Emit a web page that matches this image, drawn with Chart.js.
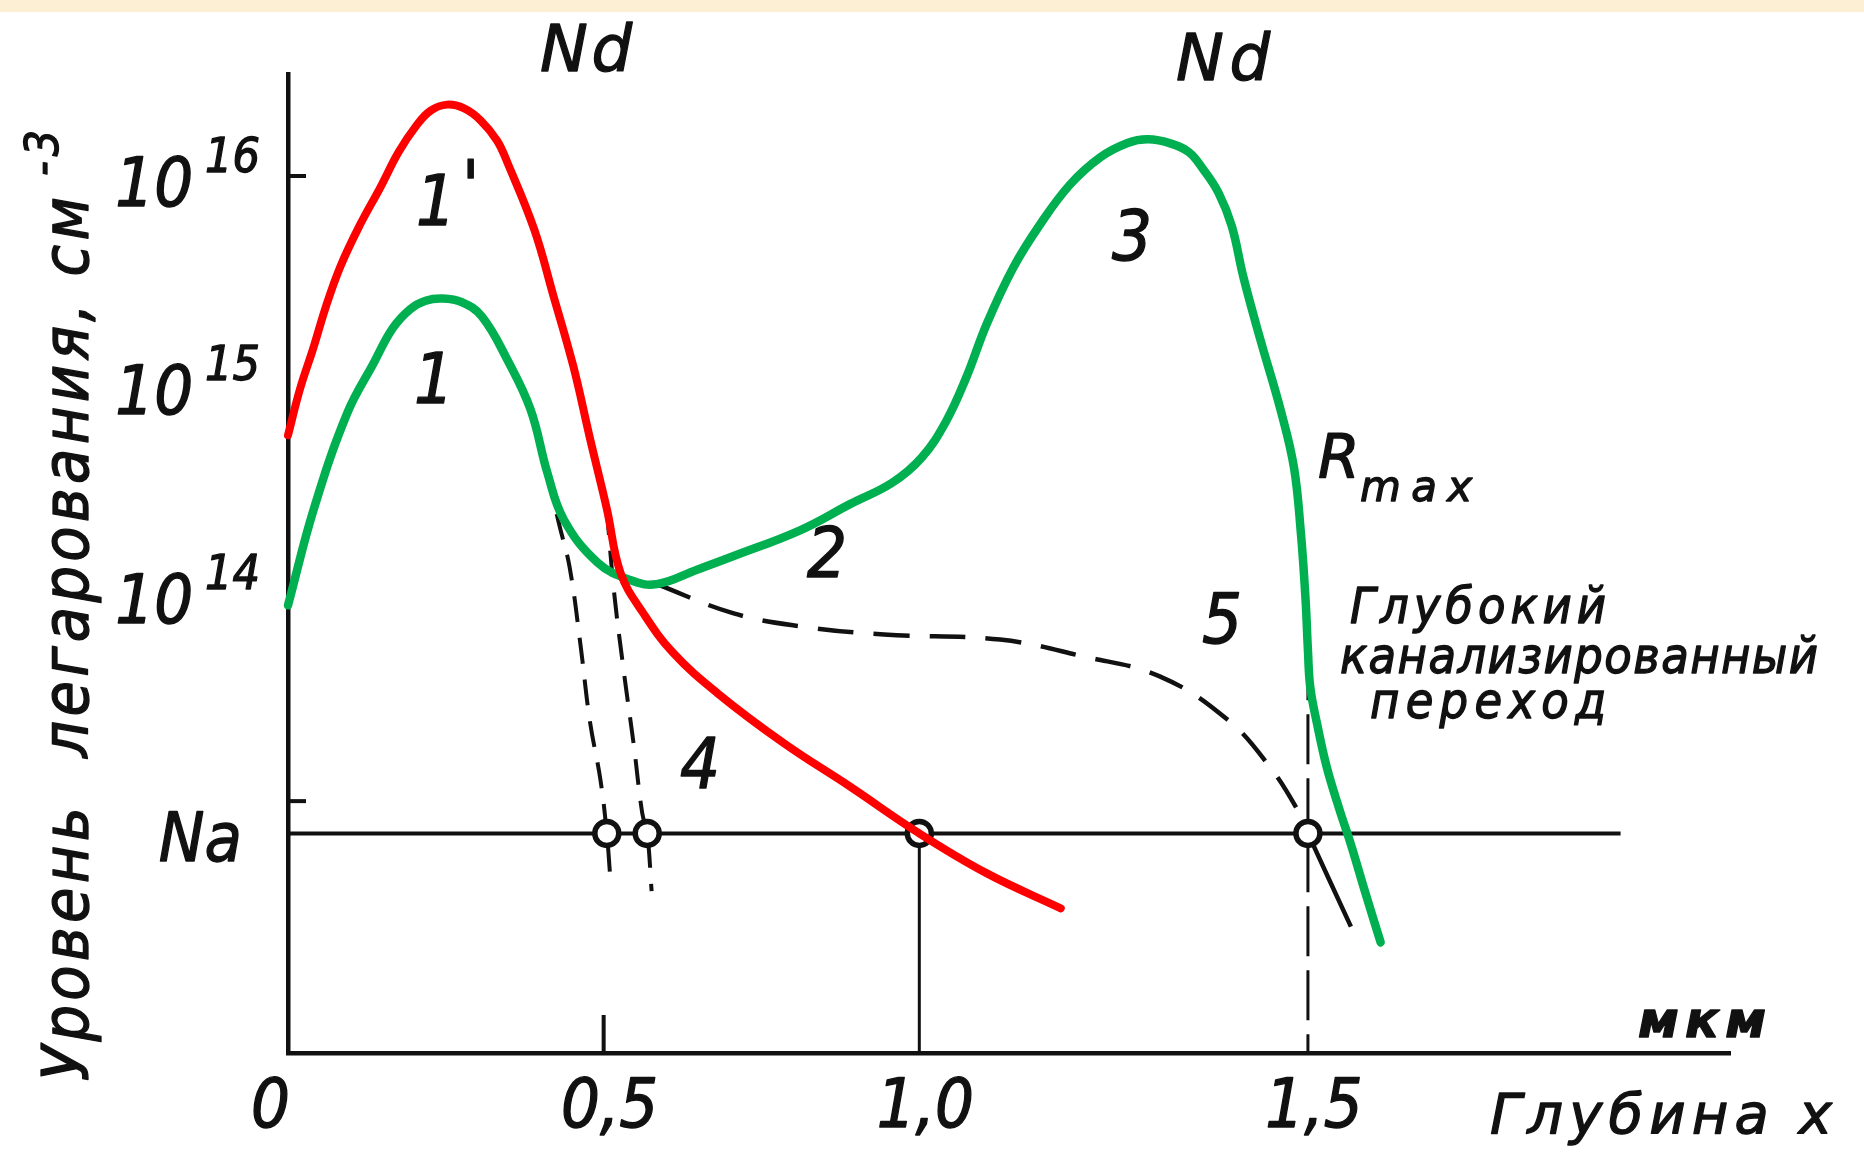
<!DOCTYPE html>
<html>
<head>
<meta charset="utf-8">
<script src="https://cdn.jsdelivr.net/npm/chart.js@4.4.1/dist/chart.umd.min.js"></script>
<style>
  html, body { margin: 0; padding: 0; background: #ffffff; }
  #wrap { position: relative; width: 1864px; height: 1167px; }
</style>
</head>
<body>
<div id="wrap"><canvas id="fig"></canvas></div>
<script>
// ---- Doping profiles: depth x in µm, concentration N in cm^-3 ----

// Curve 1' (peak) continuing into tail 4
const curve1pDepth = [0.0, 0.019, 0.040, 0.060, 0.083, 0.113, 0.147, 0.175, 0.203, 0.226, 0.252, 0.279, 0.305, 0.331, 0.347, 0.390, 0.420, 0.452, 0.478, 0.505, 0.527, 0.563, 0.610, 0.680, 0.785, 0.891, 1.0, 1.087, 1.182];
const curve1pLevel = [5.7e14, 9.5e14, 1.49e15, 2.36e15, 3.68e15, 5.75e15, 8.9e15, 1.3e16, 1.74e16, 2.06e16, 2.2e16, 2.11e16, 1.85e16, 1.48e16, 1.17e16, 5.54e15, 2.69e15, 1.22e15, 5.56e14, 2.53e14, 1.24e14, 7.96e13, 5.15e13, 3.3e13, 1.9e13, 1.17e13, 7.0e12, 4.5e12, 3.06e12];

// Curve 1 -> 2 -> 3 (surface peak, channelled tail, deep peak)
const curve123Depth = [0.0, 0.041, 0.094, 0.136, 0.166, 0.194, 0.218, 0.245, 0.275, 0.307, 0.347, 0.384, 0.411, 0.437, 0.490, 0.542, 0.584, 0.648, 0.706, 0.812, 0.891, 0.957, 1.003, 1.034, 1.060, 1.087, 1.121, 1.156, 1.194, 1.233, 1.268, 1.294, 1.324, 1.347, 1.365, 1.385, 1.402, 1.417, 1.439, 1.465, 1.482, 1.491, 1.497, 1.500, 1.503, 1.512, 1.524, 1.540, 1.555, 1.573, 1.593];
const curve123Level = [8.7e13, 2.53e14, 7.3e14, 1.27e15, 1.86e15, 2.3e15, 2.52e15, 2.58e15, 2.48e15, 2.12e15, 1.32e15, 7.6e14, 3.75e14, 2.24e14, 1.4e14, 1.15e14, 1.1e14, 1.29e14, 1.5e14, 2.0e14, 2.67e14, 3.37e14, 4.45e14, 6.6e14, 1.07e15, 1.96e15, 3.64e15, 5.9e15, 9.1e15, 1.23e16, 1.44e16, 1.5e16, 1.43e16, 1.3e16, 1.08e16, 8.3e15, 5.75e15, 3.27e15, 1.63e15, 7.5e14, 4.0e14, 1.92e14, 9.2e13, 5.3e13, 3.52e13, 2.32e13, 1.46e13, 9.2e12, 6.2e12, 3.68e12, 2.1e12];

// Dashed fall-off of curve 1 without channelling
const fall1Depth = [0.411, 0.429, 0.446, 0.463, 0.478, 0.495, 0.505, 0.510];
const fall1Level = [3.75e14, 2.16e14, 1.33e14, 5.73e13, 2.44e13, 1.26e13, 7.0e12, 4.5e12];

// Dashed fall-off of curve 1' without channelling
const fall1pDepth = [0.505, 0.516, 0.531, 0.548, 0.561, 0.569, 0.576];
const fall1pLevel = [2.53e14, 1.04e14, 4.4e13, 1.83e13, 8.8e12, 7.0e12, 3.7e12];

// Curve 5 (dashed channelled tail)
const curve5Depth = [0.584, 0.706, 0.812, 0.944, 1.104, 1.211, 1.310, 1.396, 1.451, 1.489, 1.500, 1.555];
const curve5Level = [1.1e14, 7.96e13, 6.9e13, 6.3e13, 5.96e13, 4.95e13, 3.96e13, 2.47e13, 1.46e13, 8.75e12, 7.0e12, 2.5e12];

// Substrate acceptor level Na and the junction depths on it
const NA_LEVEL = 7.0e12;
const NA_LINE_END = 1.9;
const junctionDepths = [0.505, 0.569, 1.0, 1.5];

// Axis ranges and tick labels
const X_MAX = 2.04;
const Y_MIN = Math.pow(10, 11.7913);
const Y_MAX = Math.pow(10, 16.4894);
const xTickValues = [0, 0.5, 1.0, 1.5];
const xTickLabels = ['0', '0,5', '1,0', '1,5'];
const yTickExponents = [16, 15, 14];
const yTickMarkExponents = [16, 13];

// ---- Depth axis: linear between hand-drawn scale marks ----
class DepthScale extends Chart.LinearScale {
  static id = 'depth';
  static defaults = {};
  static knots = [[0, 0], [1.0, 0.4378], [1.5, 0.7073], [X_MAX, 1]];
  _toDecimal(v) {
    const k = DepthScale.knots;
    let i = 0;
    while (i < k.length - 2 && v > k[i + 1][0]) i++;
    const [v0, f0] = k[i], [v1, f1] = k[i + 1];
    return f0 + (v - v0) * (f1 - f0) / (v1 - v0);
  }
  getPixelForValue(value) {
    if (value === null || value === undefined || isNaN(value)) return NaN;
    return this.getPixelForDecimal(this._toDecimal(value));
  }
  getValueForPixel(pixel) {
    const d = this.getDecimalForPixel(pixel);
    const k = DepthScale.knots;
    let i = 0;
    while (i < k.length - 2 && d > k[i + 1][1]) i++;
    const [v0, f0] = k[i], [v1, f1] = k[i + 1];
    return v0 + (d - f0) * (v1 - v0) / (f1 - f0);
  }
}
Chart.register(DepthScale);

const pts = (xs, ys) => xs.map((x, i) => ({ x, y: ys[i] }));

const RED = '#ff0000';
const GREEN = '#00b050';
const INK = '#111111';
const NARROW = "'DejaVu Sans Condensed', 'Liberation Sans Narrow', 'DejaVu Sans', sans-serif";
const WIDE = "'DejaVu Sans', 'Liberation Sans', sans-serif";

function setFont(ctx, size, family, weight) {
  ctx.font = 'italic ' + (weight || 'normal') + ' ' + size + 'px ' + (family || NARROW);
}
// Draws text so that it spans the given width, spacing the letters evenly
function spreadText(ctx, text, x, y, width) {
  const chars = Array.from(text);
  const widths = chars.map(c => ctx.measureText(c).width);
  const total = widths.reduce((a, b) => a + b, 0);
  const gap = chars.length > 1 ? (width - total) / (chars.length - 1) : 0;
  ctx.textAlign = 'left';
  let cx = x;
  chars.forEach((c, i) => {
    ctx.fillText(c, cx, y);
    ctx.strokeText(c, cx, y);
    cx += widths[i] + gap;
  });
}
function inkText(ctx, text, x, y) {
  ctx.fillText(text, x, y);
  ctx.strokeText(text, x, y);
}

const figurePlugin = {
  id: 'figureText',
  beforeDraw(chart) {
    const ctx = chart.ctx;
    ctx.save();
    ctx.fillStyle = '#ffffff';
    ctx.fillRect(0, 0, chart.width, chart.height);
    ctx.fillStyle = '#fdefd4';
    ctx.fillRect(0, 0, chart.width, 12);
    ctx.restore();
  },
  afterDraw(chart) {
    const ctx = chart.ctx;
    const xs = chart.scales.x, ys = chart.scales.y;
    const area = chart.chartArea;
    ctx.save();
    ctx.fillStyle = INK;
    ctx.strokeStyle = INK;
    ctx.textBaseline = 'alphabetic';
    ctx.lineJoin = 'round';

    // tick marks
    ctx.lineWidth = 4;
    yTickMarkExponents.forEach(e => {
      const y = ys.getPixelForValue(Math.pow(10, e));
      ctx.beginPath(); ctx.moveTo(area.left, y); ctx.lineTo(area.left + 18, y); ctx.stroke();
    });
    const x05 = xs.getPixelForValue(0.5);
    ctx.beginPath(); ctx.moveTo(x05, area.bottom); ctx.lineTo(x05, area.bottom - 38); ctx.stroke();

    ctx.lineWidth = 1.3;

    // y tick labels 10^n
    yTickExponents.forEach(e => {
      const y = ys.getPixelForValue(Math.pow(10, e));
      setFont(ctx, 48);
      const sup = String(e);
      const supW = ctx.measureText(sup).width;
      ctx.textAlign = 'right';
      inkText(ctx, sup, 260, y - 4);
      setFont(ctx, 68);
      inkText(ctx, '10', 260 - supW - 12, y + 30);
    });
    setFont(ctx, 68);
    ctx.textAlign = 'right';
    inkText(ctx, 'Na', area.left - 46, ys.getPixelForValue(NA_LEVEL) + 28);

    // x tick labels
    setFont(ctx, 68);
    xTickValues.forEach((v, i) => {
      const px = xs.getPixelForValue(v);
      if (v === 0) { ctx.textAlign = 'right'; inkText(ctx, xTickLabels[i], px + 2, 1127); }
      else { ctx.textAlign = 'center'; inkText(ctx, xTickLabels[i], px + 6, 1127); }
    });

    // axis titles
    setFont(ctx, 50, WIDE, 'bold');
    spreadText(ctx, 'мкм', 1638, 1037, 128);
    setFont(ctx, 56, WIDE);
    spreadText(ctx, 'Глубина x', 1490, 1133, 342);

    ctx.save();
    ctx.translate(88, 1081);
    ctx.rotate(-Math.PI / 2);
    setFont(ctx, 64);
    spreadText(ctx, 'Уровень  легарования, см', 0, 0, 884);
    setFont(ctx, 46);
    spreadText(ctx, '-3', 905, -30, 46);
    ctx.restore();

    // peak and curve labels
    setFont(ctx, 64, WIDE);
    spreadText(ctx, 'Nd', 540, 71, 92);
    spreadText(ctx, 'Nd', 1176, 80, 94);
    setFont(ctx, 70);
    ctx.textAlign = 'center';
    inkText(ctx, '1', 436, 225);
    inkText(ctx, '1', 434, 403);
    inkText(ctx, '2', 827, 577);
    inkText(ctx, '3', 1132, 260);
    inkText(ctx, '4', 700, 788);
    inkText(ctx, '5', 1222, 643);
    setFont(ctx, 70);
    ctx.textAlign = 'left';
    inkText(ctx, '\'', 462, 210);

    // R_max
    setFont(ctx, 60, WIDE);
    ctx.textAlign = 'left';
    inkText(ctx, 'R', 1318, 478);
    setFont(ctx, 42, WIDE);
    spreadText(ctx, 'max', 1360, 501, 112);

    // deep channelled junction note
    setFont(ctx, 50);
    spreadText(ctx, 'Глубокий', 1350, 623, 256);
    spreadText(ctx, 'канализированный', 1340, 673, 478);
    spreadText(ctx, 'переход', 1370, 718, 236);

    ctx.restore();
  }
};

const solidBlack = { borderColor: INK, pointRadius: 0, tension: 0, fill: false, order: 2, clip: false };
const smooth = { pointRadius: 0, tension: 0.4, fill: false, clip: false, borderCapStyle: 'round', borderJoinStyle: 'round' };

new Chart(document.getElementById('fig'), {
  type: 'line',
  data: {
    datasets: [
      { label: "1' / 4", data: pts(curve1pDepth, curve1pLevel), borderColor: RED, borderWidth: 8, order: 0, ...smooth },
      { label: '1 / 2 / 3', data: pts(curve123Depth, curve123Level), borderColor: GREEN, borderWidth: 8.5, order: 0, ...smooth },
      { label: 'junctions', data: junctionDepths.map(x => ({ x, y: NA_LEVEL })), showLine: false,
        pointRadius: 12, pointBorderWidth: 5.5, pointBackgroundColor: '#ffffff', pointBorderColor: INK,
        order: 1, clip: false },
      { label: 'Na', data: [{ x: 0, y: NA_LEVEL }, { x: NA_LINE_END, y: NA_LEVEL }], borderWidth: 4, ...solidBlack },
      { label: 'x = 1,0', data: [{ x: 1.0, y: NA_LEVEL }, { x: 1.0, y: Y_MIN }], borderWidth: 3, ...solidBlack },
      { label: 'x = 1,5', data: [{ x: 1.5, y: 5.3e13 }, { x: 1.5, y: Y_MIN }], borderWidth: 3,
        borderDash: [50, 14], ...solidBlack },
      { label: '5', data: pts(curve5Depth, curve5Level), borderColor: INK, borderWidth: 4.5, order: 2, ...smooth,
        borderCapStyle: 'butt', borderDash: [36, 20],
        segment: { borderDash: c => c.p0DataIndex >= curve5Depth.length - 2 ? [] : [36, 20] } },
      { label: '1 fall', data: pts(fall1Depth, fall1Level), borderColor: INK, borderWidth: 4, order: 2, ...smooth,
        borderCapStyle: 'butt', borderDash: [26, 16] },
      { label: "1' fall", data: pts(fall1pDepth, fall1pLevel), borderColor: INK, borderWidth: 4, order: 2, ...smooth,
        borderCapStyle: 'butt', borderDash: [26, 16] }
    ]
  },
  options: {
    responsive: true,
    maintainAspectRatio: false,
    animation: false,
    events: [],
    layout: { padding: { left: 288, right: 134, top: 74, bottom: 114 } },
    plugins: { legend: { display: false }, tooltip: { enabled: false }, title: { display: false } },
    scales: {
      x: {
        type: 'depth', min: 0, max: X_MAX,
        grid: { display: false, drawTicks: false },
        ticks: { display: false },
        border: { display: true, color: INK, width: 4.5 },
        afterFit: s => { s.height = 0; }
      },
      y: {
        type: 'logarithmic', min: Y_MIN, max: Y_MAX,
        grid: { display: false, drawTicks: false },
        ticks: { display: false },
        border: { display: true, color: INK, width: 4.5 },
        afterFit: s => { s.width = 0; }
      }
    }
  },
  plugins: [figurePlugin]
});
</script>
</body>
</html>
